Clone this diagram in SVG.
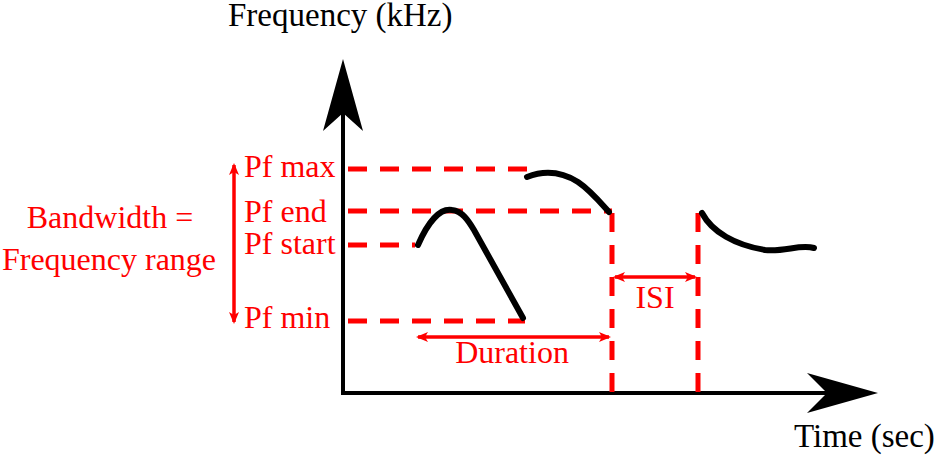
<svg xmlns="http://www.w3.org/2000/svg" width="937" height="457" viewBox="0 0 937 457">
<defs>
<style>
.lbl{font-family:"Liberation Serif","Times New Roman",serif;font-size:32px}
.big{font-size:33px}
.red{fill:#ff0000}
.blk{fill:#000}
.dash{stroke:#ff0000;stroke-width:5;stroke-dasharray:19 13;fill:none}
.curve{stroke:#000;stroke-width:6;stroke-linecap:round;fill:none}
.rarr{stroke:#ff0000;stroke-width:3.5;fill:none}
</style>
<marker id="rh" viewBox="0 0 12 12" refX="10" refY="6" markerWidth="12" markerHeight="12" markerUnits="userSpaceOnUse" orient="auto-start-reverse">
<path d="M0,1 L12,6 L0,11 L3,6 Z" fill="#ff0000"/>
</marker>
</defs>
<g id="axes">
<line x1="343" y1="393" x2="343" y2="110" stroke="#000" stroke-width="4"/>
<path d="M343,59 L363,131 L343,113 L323,131 Z" fill="#000"/>
<line x1="341" y1="393" x2="830" y2="393" stroke="#000" stroke-width="4"/>
<path d="M878,393 L807,373 L827,393 L807,413 Z" fill="#000"/>
</g>
<g id="connectors">
<line class="dash" x1="348" y1="169" x2="535" y2="169"/>
<line class="dash" x1="348" y1="211" x2="612" y2="211"/>
<line class="dash" x1="348" y1="245" x2="415" y2="245"/>
<line class="dash" x1="348" y1="321" x2="525" y2="321"/>
<line class="dash" x1="612" y1="213" x2="612" y2="393"/>
<line class="dash" x1="698" y1="213" x2="698" y2="393"/>
<line class="rarr" x1="418" y1="337" x2="609" y2="337" marker-start="url(#rh)" marker-end="url(#rh)"/>
<line class="rarr" x1="615" y1="277" x2="695" y2="277" marker-start="url(#rh)" marker-end="url(#rh)"/>
<line class="rarr" x1="234" y1="165" x2="234" y2="322" marker-start="url(#rh)" marker-end="url(#rh)"/>
</g>
<g id="call1"><path class="curve" d="M418,245 C428,222 440,208 452,210 C462,211 468,220 474,230 L523,318"/></g>
<g id="call2"><path class="curve" d="M527,177 C545,170 562,172 578,182 C590,190 600,202 609,212"/></g>
<g id="call3"><path class="curve" d="M702,213 C712,232 735,245 765,250 C785,252 800,244 814,248"/></g>
<g id="labels">
<text class="lbl big blk" x="228" y="26">Frequency (kHz)</text>
<text class="lbl big blk" x="794" y="447">Time (sec)</text>
<text class="lbl red" x="244" y="177">Pf max</text>
<text class="lbl red" x="244" y="222">Pf end</text>
<text class="lbl red" x="244" y="254">Pf start</text>
<text class="lbl red" x="244" y="328">Pf min</text>
<text class="lbl red" x="110" y="228" text-anchor="middle">Bandwidth =</text>
<text class="lbl red" x="109" y="270" text-anchor="middle">Frequency range</text>
<text class="lbl red" x="512" y="363" text-anchor="middle">Duration</text>
<text class="lbl red" x="655" y="308" text-anchor="middle">ISI</text>
</g>
</svg>
